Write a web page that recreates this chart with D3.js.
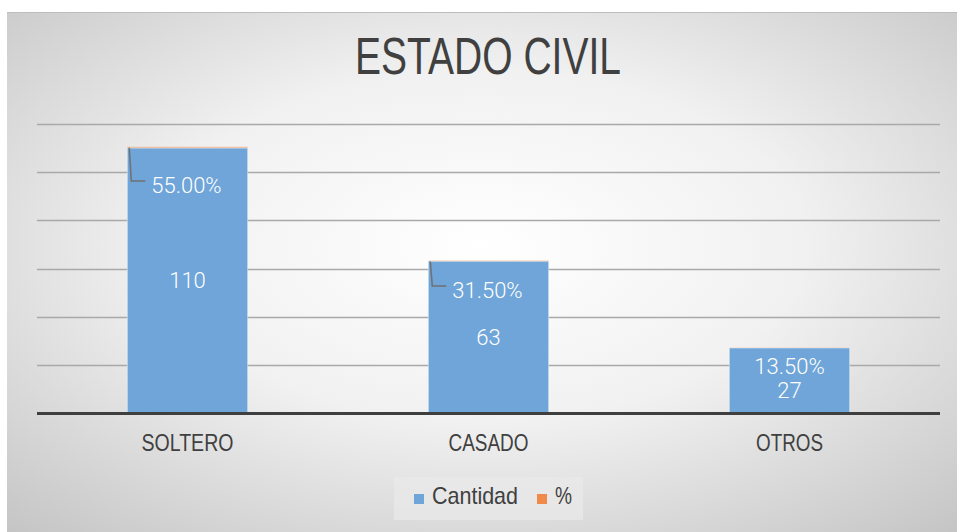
<!DOCTYPE html>
<html>
<head>
<meta charset="utf-8">
<script src="https://cdn.jsdelivr.net/npm/d3@7.9.0/dist/d3.min.js"></script>
<style>
  body { margin: 0; background: #fff; }
  svg { display: block; }
</style>
</head>
<body>
<svg id="chart" width="957" height="532"></svg>
<script>
// data
const categories = ['SOLTERO', 'CASADO', 'OTROS'];
const cantidad = [110, 63, 27];
const porcentaje = [0.55, 0.315, 0.135];
const seriesNames = ['Cantidad', '%'];
const yTicks = [0, 20, 40, 60, 80, 100, 120];

const svg = d3.select('#chart');
const W = 957, H = 532;

// background panel with radial shading
const defs = svg.append('defs');
const grad = defs.append('radialGradient')
  .attr('id', 'bg')
  .attr('cx', '50%').attr('cy', '45%').attr('r', '75%');
grad.append('stop').attr('offset', '0%').attr('stop-color', '#ffffff');
grad.append('stop').attr('offset', '45%').attr('stop-color', '#f1f1f1');
grad.append('stop').attr('offset', '100%').attr('stop-color', '#c4c4c4');

svg.append('rect')
  .attr('x', 7).attr('y', 12)
  .attr('width', W - 7).attr('height', H - 12)
  .attr('fill', 'url(#bg)');
svg.append('line')
  .attr('x1', 7).attr('x2', W).attr('y1', 12.5).attr('y2', 12.5)
  .attr('stroke', '#bdbdbd').attr('stroke-width', 1);

const plot = { left: 37, right: 940, top: 124, bottom: 413 };

const x = d3.scaleBand()
  .domain(categories)
  .range([plot.left, plot.right])
  .paddingInner(0.6)
  .paddingOuter(0.3);

const y = d3.scaleLinear()
  .domain([0, 120])
  .range([plot.bottom, plot.top]);

// gridlines
svg.append('g')
  .selectAll('line')
  .data(yTicks.filter(d => d > 0))
  .join('line')
  .attr('x1', plot.left).attr('x2', plot.right)
  .attr('y1', d => Math.round(y(d)) + 0.5)
  .attr('y2', d => Math.round(y(d)) + 0.5)
  .attr('stroke', '#a9a9a9').attr('stroke-width', 1.5);

// stacked bars
const rows = categories.map((c, i) => ({ cat: c, Cantidad: cantidad[i], '%': porcentaje[i] }));
const stack = d3.stack().keys(seriesNames)(rows);
const colors = d3.scaleOrdinal().domain(seriesNames).range(['#6fa5d8', '#f0894a']);

stack.forEach(layer => {
  svg.append('g')
    .selectAll('rect')
    .data(layer)
    .join('rect')
    .attr('x', d => x(d.data.cat))
    .attr('width', x.bandwidth())
    .attr('y', d => y(d[1]))
    .attr('height', d => Math.max(0, y(d[0]) - y(d[1])))
    .attr('fill', colors(layer.key))
    .attr('fill-opacity', layer.key === '%' ? 0.45 : 1)
    .attr('stroke', 'rgba(255,255,255,0.45)')
    .attr('stroke-width', layer.key === '%' ? 0 : 1);
});

// axis line
svg.append('line')
  .attr('x1', plot.left).attr('x2', plot.right)
  .attr('y1', plot.bottom + 0.5).attr('y2', plot.bottom + 0.5)
  .attr('stroke', '#3f3f3f').attr('stroke-width', 3);

const labelFont = 'Roboto, "Open Sans", sans-serif';
const narrow = '"Liberation Sans Narrow", "Arial Narrow", "Liberation Sans", sans-serif';

// value labels (Cantidad)
svg.append('g')
  .selectAll('text')
  .data(categories)
  .join('text')
  .attr('x', d => x(d) + x.bandwidth() / 2)
  .attr('y', (d, i) => i === 2 ? 392 : (y(0) + y(cantidad[i])) / 2 + 2)
  .attr('text-anchor', 'middle')
  .attr('dominant-baseline', 'middle')
  .attr('fill', '#fff')
  .attr('font-family', labelFont)
  .attr('font-weight', 300)
  .attr('font-size', 22)
  .text((d, i) => cantidad[i]);

// percent labels with leader lines
const pctY = [187, 292, 368];
categories.forEach((c, i) => {
  const top = y(cantidad[i] + porcentaje[i]);
  const bx = x(c);
  if (i < 2) {
    svg.append('path')
      .attr('d', `M${bx + 2},${top + 1}L${bx + 4},${pctY[i] - 6}L${bx + 18},${pctY[i] - 6}`)
      .attr('fill', 'none')
      .attr('stroke', '#707070')
      .attr('stroke-width', 1.5);
  }
  svg.append('text')
    .attr('x', i < 2 ? bx + 24 : bx + x.bandwidth() / 2)
    .attr('y', pctY[i])
    .attr('text-anchor', i < 2 ? 'start' : 'middle')
    .attr('dominant-baseline', 'middle')
    .attr('fill', '#fff')
    .attr('font-family', labelFont)
    .attr('font-weight', 300)
    .attr('font-size', 22)
    .text(d3.format('.2f')(porcentaje[i] * 100) + '%');
});

// category labels (condensed look via textLength)
const catWidths = [92, 80, 67];
svg.append('g')
  .selectAll('text')
  .data(categories)
  .join('text')
  .attr('x', d => x(d) + x.bandwidth() / 2)
  .attr('y', 445)
  .attr('text-anchor', 'middle')
  .attr('dominant-baseline', 'middle')
  .attr('fill', '#404040')
  .attr('font-family', narrow)
  .attr('font-size', 24)
  .attr('textLength', (d, i) => catWidths[i])
  .attr('lengthAdjust', 'spacingAndGlyphs')
  .text(d => d);

// title
svg.append('text')
  .attr('x', 488).attr('y', 60)
  .attr('text-anchor', 'middle')
  .attr('dominant-baseline', 'middle')
  .attr('fill', '#404040')
  .attr('font-family', narrow)
  .attr('font-size', 52)
  .attr('textLength', 266)
  .attr('lengthAdjust', 'spacingAndGlyphs')
  .text('ESTADO CIVIL');

// legend
svg.append('rect')
  .attr('x', 394).attr('y', 477).attr('width', 189).attr('height', 43)
  .attr('fill', '#e9e9e9').attr('fill-opacity', 0.7);
const legendX = [414, 537];
const legendW = [86, 17];
seriesNames.forEach((s, i) => {
  svg.append('rect')
    .attr('x', legendX[i]).attr('y', 494).attr('width', 10).attr('height', 10)
    .attr('fill', colors(s));
  svg.append('text')
    .attr('x', legendX[i] + 18).attr('y', 498)
    .attr('dominant-baseline', 'middle')
    .attr('fill', '#404040')
    .attr('font-family', narrow)
    .attr('font-size', 24)
    .attr('textLength', legendW[i])
    .attr('lengthAdjust', 'spacingAndGlyphs')
    .text(s);
});
</script>
</body>
</html>
